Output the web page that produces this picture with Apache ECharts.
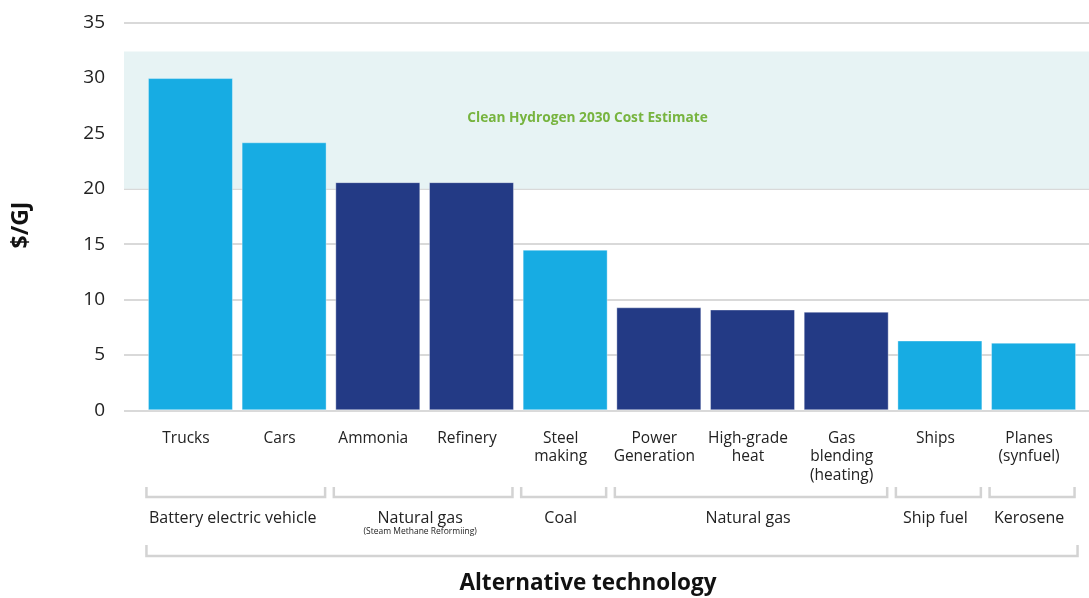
<!DOCTYPE html>
<html>
<head>
<meta charset="utf-8">
<script src="https://cdn.jsdelivr.net/npm/echarts@6/dist/echarts.min.js"></script>
<style>
  html, body { margin: 0; padding: 0; background: #fff; }
  #chart { width: 1089px; height: 598px; }
</style>
</head>
<body>
<div id="chart"></div>
<script>
// Hydrogen cost comparison: cost of the incumbent technology per end use ($/GJ)
const categories = ['Trucks', 'Cars', 'Ammonia', 'Refinery', 'Steel\nmaking', 'Power\nGeneration',
  'High-grade\nheat', 'Gas\nblending\n(heating)', 'Ships', 'Planes\n(synfuel)'];
const costs = [30.0, 24.2, 20.6, 20.6, 14.5, 9.3, 9.1, 8.9, 6.3, 6.1];
// 'ev' = light blue series colour, 'fossil' = dark blue
const kinds = ['ev', 'ev', 'fossil', 'fossil', 'ev', 'fossil', 'fossil', 'fossil', 'ev', 'ev'];
const yTicks = [0, 5, 10, 15, 20, 25, 30, 35];

// Alternative technology groups (first / last category index)
const groupNames = ['Battery electric vehicle', 'Natural gas', 'Coal', 'Natural gas', 'Ship fuel', 'Kerosene'];
const groupNotes = ['', '(Steam Methane Reformiing)', '', '', '', ''];
const groupFrom = [0, 2, 4, 5, 8, 9];
const groupTo = [1, 3, 4, 7, 8, 9];

// Clean hydrogen 2030 cost range
const bandLow = 20;
const bandHigh = 32.4;
const bandLabel = 'Clean Hydrogen 2030 Cost Estimate';

const COLORS = { ev: '#17ace3', fossil: '#233a85' };
const FONT = '"Open Sans", "Noto Sans", sans-serif';
const GRID_TOP = 22.7, GRID_BOTTOM = 187.7;

const chart = echarts.init(document.getElementById('chart'), null, { renderer: 'canvas' });

const option = {
  animation: false,
  backgroundColor: '#ffffff',
  grid: [
    { left: 124, right: 0, top: GRID_TOP, bottom: GRID_BOTTOM },
    { left: 143.6, right: 8.6, top: GRID_TOP, bottom: GRID_BOTTOM }
  ],
  xAxis: [
    { type: 'value', gridIndex: 0, min: 0, max: 1, show: false },
    {
      type: 'category', gridIndex: 1, data: categories,
      axisLine: { show: false }, axisTick: { show: false },
      axisLabel: {
        interval: 0, margin: 19, color: '#222', fontFamily: FONT,
        fontSize: 15.5, lineHeight: 18.5, align: 'center', padding: [0, 9, 0, 0]
      }
    }
  ],
  yAxis: [
    {
      type: 'value', gridIndex: 0, min: yTicks[0], max: yTicks[yTicks.length - 1], interval: 5,
      axisLine: { show: false }, axisTick: { show: false },
      axisLabel: { margin: 19, color: '#222', fontFamily: FONT, fontSize: 19 },
      splitLine: { lineStyle: { color: '#d9d9d9', width: 2 } }
    },
    {
      type: 'value', gridIndex: 1, min: yTicks[0], max: yTicks[yTicks.length - 1], interval: 5,
      show: false, splitLine: { show: false }
    }
  ],
  series: [
    {
      type: 'line', xAxisIndex: 0, yAxisIndex: 0, data: [], silent: true, z: 1,
      markArea: {
        silent: true,
        itemStyle: { color: '#e7f3f4' },
        label: {
          show: true, position: 'inside', offset: [-19, -2],
          formatter: bandLabel, color: '#77b43f', fontFamily: FONT,
          fontSize: 13.7, fontWeight: 700
        },
        data: [[{ xAxis: 0, yAxis: bandLow }, { xAxis: 1, yAxis: bandHigh }]]
      }
    },
    {
      type: 'bar', xAxisIndex: 1, yAxisIndex: 1, z: 3,
      barCategoryGap: '9.3%',
      data: costs.map((v, i) => ({
        value: v,
        itemStyle: { color: COLORS[kinds[i]], borderColor: 'rgba(255,255,255,0.35)', borderWidth: 1 }
      }))
    }
  ]
};
chart.setOption(option);

// Group brackets, group names and axis titles, placed from the category axis scale
function buildGraphics() {
  const cx = i => chart.convertToPixel({ xAxisIndex: 1 }, i);
  const band = cx(1) - cx(0);
  const half = band * (1 - 0.093) / 2;
  const lineStyle = { stroke: '#d3d3d3', lineWidth: 2.5, fill: null };
  const els = [];
  const yTop = 487, yBot = 497;
  for (let g = 0; g < groupNames.length; g++) {
    const x0 = cx(groupFrom[g]) - half - 1.5;
    const x1 = cx(groupTo[g]) + half - 1.5;
    els.push({
      type: 'polyline', silent: true,
      shape: { points: [[x0, yTop], [x0, yBot], [x1, yBot], [x1, yTop]] },
      style: lineStyle
    });
    // group names sit on the centre of their category labels
    const mid = (cx(groupFrom[g]) + cx(groupTo[g])) / 2 - 4.5;
    els.push({
      type: 'text', x: mid, y: 518, silent: true,
      style: { text: groupNames[g], fill: '#222', font: '16px ' + FONT, align: 'center', verticalAlign: 'middle' }
    });
    if (groupNotes[g]) {
      els.push({
        type: 'text', x: mid, y: 532, silent: true,
        style: { text: groupNotes[g], fill: '#222', font: '8.5px ' + FONT, align: 'center', verticalAlign: 'middle' }
      });
    }
  }
  // Overall bracket under all groups
  const a0 = cx(0) - half - 1.5;
  const a1 = cx(categories.length - 1) + half + 1.5;
  els.push({
    type: 'polyline', silent: true,
    shape: { points: [[a0, 545], [a0, 556], [a1, 556], [a1, 545]] },
    style: lineStyle
  });
  els.push({
    type: 'text', x: 588, y: 584, silent: true,
    style: { text: 'Alternative technology', fill: '#111', font: 'bold 22.5px ' + FONT, align: 'center', verticalAlign: 'middle' }
  });
  els.push({
    type: 'text', x: 21, y: 225, rotation: Math.PI / 2, silent: true,
    style: { text: '$/GJ', fill: '#111', font: 'bold 23px ' + FONT, align: 'center', verticalAlign: 'middle' }
  });
  chart.setOption({ graphic: els });
}
buildGraphics();
</script>
</body>
</html>
